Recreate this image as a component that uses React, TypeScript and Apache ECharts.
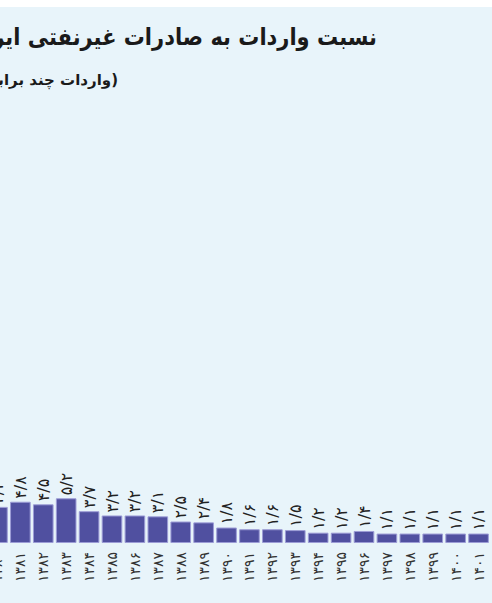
import React, { useEffect, useRef } from "react";
import * as echarts from "echarts";

const titleText = "نسبت واردات به صادرات غیرنفتی ایران";
const subtitleText = "(واردات چند برابر صادرات)";
const years = [
  "۱۳۸۰", "۱۳۸۱", "۱۳۸۲", "۱۳۸۳", "۱۳۸۴", "۱۳۸۵", "۱۳۸۶", "۱۳۸۷", "۱۳۸۸", "۱۳۸۹", "۱۳۹۰",
  "۱۳۹۱", "۱۳۹۲", "۱۳۹۳", "۱۳۹۴", "۱۳۹۵", "۱۳۹۶", "۱۳۹۷", "۱۳۹۸", "۱۳۹۹", "۱۴۰۰", "۱۴۰۱",
];
const ratios = [4.2, 4.8, 4.5, 5.2, 3.7, 3.2, 3.2, 3.1, 2.5, 2.4, 1.8, 1.6, 1.6, 1.5, 1.2, 1.2, 1.4, 1.1, 1.1, 1.1, 1.1, 1.1];

const faDigits = "۰۱۲۳۴۵۶۷۸۹";
function toFa(v: number): string {
  return v
    .toFixed(1)
    .replace(".", "/")
    .replace(/[0-9]/g, (d) => faDigits[Number(d)]);
}

export default function App() {
  const ref = useRef<HTMLDivElement>(null);
  useEffect(() => {
    document.body.style.margin = "0";
    if (!ref.current) return;
    const chart = echarts.init(ref.current, null, { renderer: "svg" });
    const offset = 40;
    chart.setOption({
      animation: false,
      grid: { left: 26, right: 2, top: 113, bottom: 60, containLabel: false },
      graphic: [
        {
          type: "text",
          x: 377 + offset,
          y: 48,
          scaleY: 1.12,
          style: {
            text: titleText,
            textAlign: "right",
            textVerticalAlign: "bottom",
            font: 'bold 21px "DejaVu Sans"',
            fill: "#1a1a1a",
          },
        },
        {
          type: "text",
          x: 118 + offset,
          y: 87,
          style: {
            text: subtitleText,
            textAlign: "right",
            textVerticalAlign: "bottom",
            font: 'bold 15px "DejaVu Sans"',
            fill: "#1a1a1a",
          },
        },
      ],
      xAxis: {
        type: "category",
        data: years,
        axisLine: { show: false },
        axisTick: { show: false },
        axisLabel: {
          rotate: 90,
          interval: 0,
          margin: 9,
          fontSize: 14,
          color: "#333",
          fontFamily: "DejaVu Sans",
        },
      },
      yAxis: {
        type: "value",
        min: 0,
        max: 50,
        show: false,
        splitLine: { show: false },
      },
      series: [
        {
          type: "bar",
          data: ratios,
          barCategoryGap: "10%",
          itemStyle: { color: "#5050a0", borderColor: "#9c9cd6", borderWidth: 1 },
          label: {
            show: true,
            position: "top",
            rotate: 90,
            align: "left",
            verticalAlign: "middle",
            distance: 3,
            fontSize: 16,
            color: "#222",
            fontFamily: "DejaVu Sans",
            formatter: (p: any) => toFa(p.value),
          },
        },
      ],
    });
    return () => chart.dispose();
  }, []);
  return (
    <div style={{ position: "relative", width: 492, height: 603, overflow: "hidden", background: "#ffffff" }}>
      <div style={{ position: "absolute", left: 0, top: 7, width: 492, height: 596, background: "#e8f4fa" }} />
      <div ref={ref} style={{ position: "absolute", left: -40, top: 0, width: 532, height: 603 }} />
    </div>
  );
}
